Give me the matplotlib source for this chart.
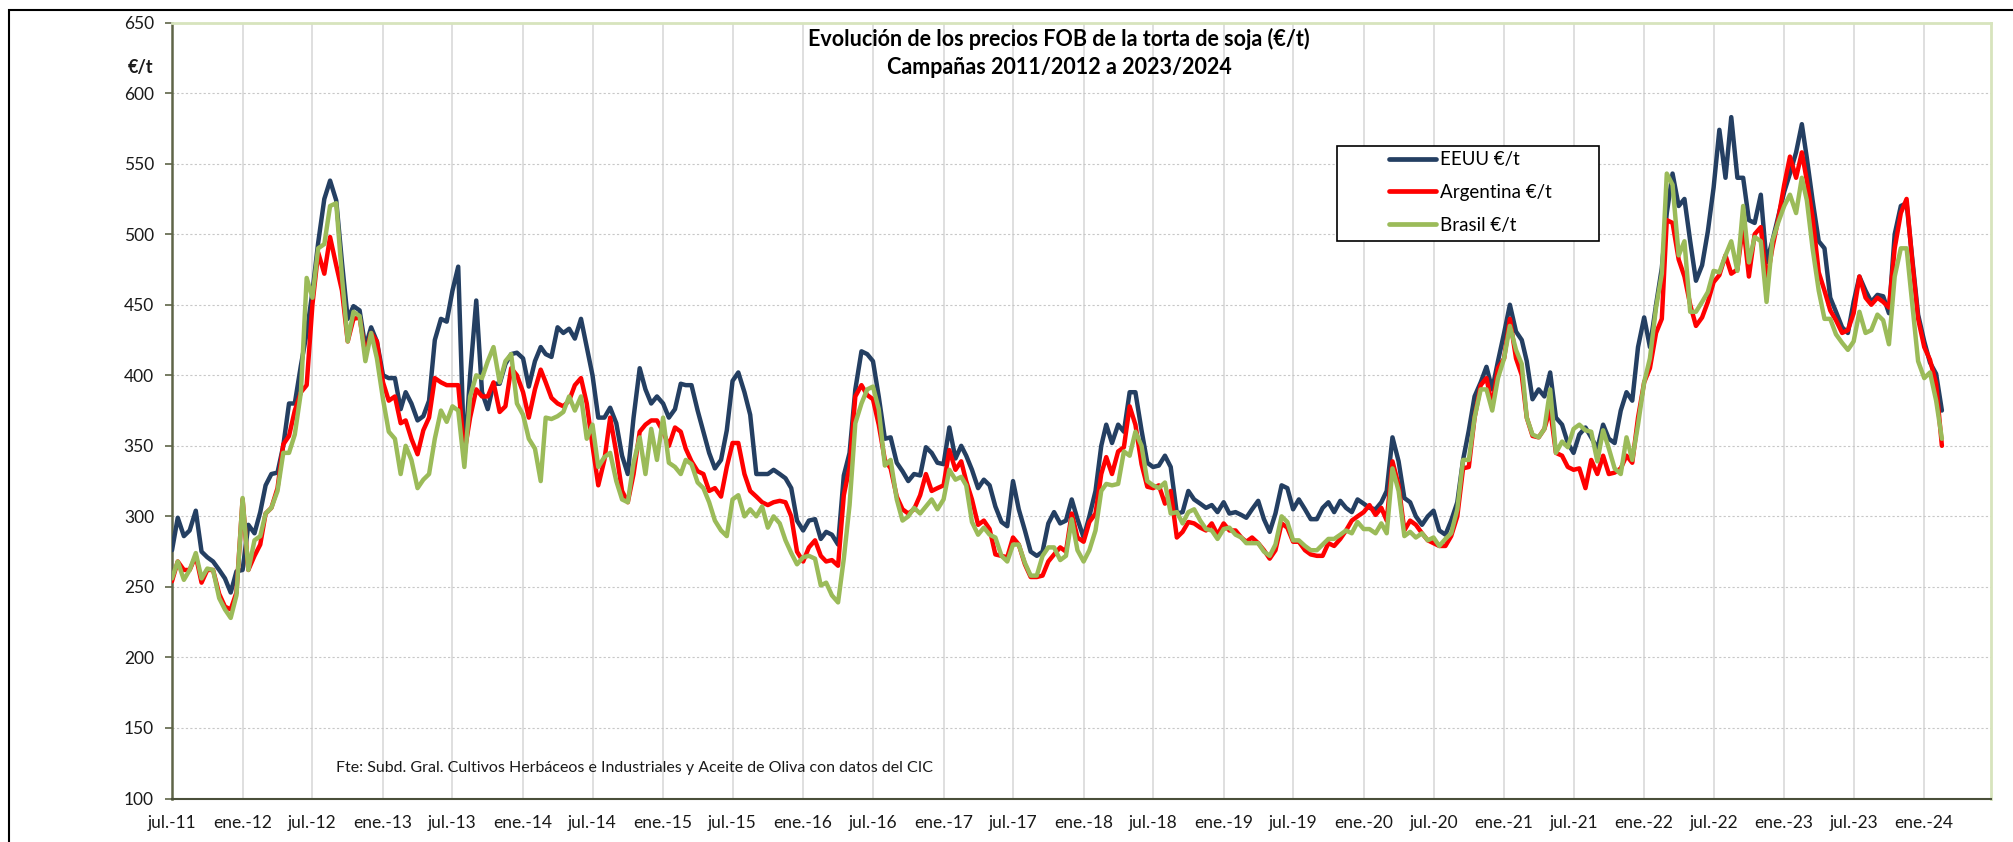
import numpy as np
import matplotlib.pyplot as plt
from matplotlib.lines import Line2D
from matplotlib.patches import Rectangle

plt.rcParams['font.family'] = ['Lato', 'DejaVu Sans']

# --- Datos (precio FOB torta de soja, €/t), puntos quincenales desde el 1 jul 2011 ---
eeuu = [
    276, 299, 286, 290, 304, 275, 271, 268, 262, 256, 246, 261, 262,
    294, 288, 303, 322, 330, 331, 350, 380, 380, 407, 430, 459,
    494, 525, 538, 524, 480, 440, 449, 446, 420, 434, 424, 400,
    398, 398, 376, 388, 380, 368, 371, 382, 425, 440, 438, 460,
    477, 340, 400, 453,
    388, 376, 394, 394, 408, 415, 416, 412,
    392, 410, 420, 415, 413, 434, 430, 433, 426, 440, 420, 400,
    370, 370, 377, 366, 343, 330, 370, 405, 390, 380, 385, 380,
    370, 376, 394, 393, 393, 375, 360, 345, 334, 340, 361, 396,
    402, 388, 372, 330, 330, 330, 333, 330,
    327, 320, 297, 290, 297, 298, 284, 289, 287, 280, 329, 345,
    390, 417, 415, 410, 385, 355, 356, 338, 332, 325, 330, 329,
    349, 345, 338, 337, 363, 341, 350, 343, 333, 320, 326, 322,
    307, 296, 293, 325, 305, 290, 275, 272, 275, 295, 303, 295, 297, 312, 298, 285,
    300, 318, 350, 365, 352, 365, 360, 388, 388, 361, 338, 335,
    336, 343, 335, 302, 303, 318, 312, 309, 306, 308, 303, 310,
    302, 303, 301, 299, 305, 311, 298, 289, 302, 322, 320, 305,
    312, 305, 298, 298, 306, 310, 303, 311, 306, 303, 312, 309,
    306, 305, 310, 318, 356,
    339, 313, 310, 300, 294, 300, 304, 290, 287, 297, 310, 340,
    361, 385, 395, 406, 390, 410, 430, 450, 431, 425, 410, 383,
    390, 385, 402, 370, 365, 352, 345, 358, 363, 356, 348, 365,
    355, 352, 375, 388, 382, 420, 441, 420, 450, 476, 515, 543,
    520, 525, 495, 467,
    478, 502, 533, 574, 540, 583, 540, 540, 510, 508, 528, 480,
    495, 512, 530, 543, 558, 578, 554, 524, 495, 490, 455, 445,
    434, 430, 452, 470, 460, 452, 457, 456, 444, 500, 520, 522,
    482, 443, 424, 409, 401, 375,
]
argentina = [
    254, 268, 262, 262, 272, 253, 262, 262, 245, 236, 234, 246, 312,
    262, 272, 280, 302, 306, 320, 351, 357, 375, 388, 393, 450,
    487, 472, 498, 478, 460, 424, 440, 441, 415, 430, 424, 395,
    382, 385, 366, 368, 355, 344, 361, 370, 398, 395, 393, 393,
    393, 345, 370, 390,
    385, 385, 395, 374, 378, 405, 400, 388,
    370, 390, 404, 395, 384, 380, 378, 382, 393, 398, 380, 350,
    322, 340, 370, 345, 318, 310, 330, 360, 365, 368, 368, 360,
    350, 363, 360, 348, 339, 332, 330, 318, 320, 314, 335, 352,
    352, 330, 318, 314, 310, 308, 310, 311,
    310, 300, 275, 268, 278, 283, 272, 268, 269, 265, 315, 335,
    385, 393, 386, 383, 365, 340, 334, 314, 305, 302, 305, 315,
    330, 318, 320, 322, 347, 333, 339, 325, 312, 294, 297, 291,
    273, 272, 271, 285, 280, 266, 257, 257, 258, 268, 273, 278, 275, 302, 285, 282,
    296, 302, 330, 342, 330, 346, 349, 378, 365, 337, 321, 320,
    322, 309, 318, 285, 289, 296, 295, 292, 290, 295, 287, 295,
    290, 290, 285, 282, 285, 281, 276, 270, 276, 295, 292, 282,
    282, 276, 273, 272, 272, 281, 279, 284, 290, 297, 300, 303,
    308, 301, 306, 297, 339,
    322, 290, 297, 294, 288, 283, 281, 279, 279, 286, 300, 334,
    335, 370, 393, 398, 378, 405, 412, 440, 412, 400, 370, 357,
    356, 362, 376, 345, 343, 335, 333, 334, 320, 340, 330, 343,
    330, 331, 334, 343, 338, 370, 395, 405, 430, 440, 510, 508,
    482, 470, 450, 435,
    441, 452, 466, 471, 485, 472, 475, 507, 470, 500, 505, 466,
    490, 510, 535, 555, 540, 558, 538, 512, 473, 460, 446, 439,
    430, 432, 444, 470, 455, 450, 455, 452, 448, 490, 515, 525,
    480, 440, 420, 411, 394, 350,
]
brasil = [
    256, 268, 255, 262, 274, 256, 263, 262, 242, 234, 228, 244, 313,
    262, 283, 286, 302, 306, 318, 345, 345, 358, 388, 469, 455,
    490, 493, 520, 522, 470, 424, 445, 442, 410, 430, 412, 383,
    360, 355, 330, 350, 340, 320, 326, 330, 355, 375, 367, 378,
    375, 335, 385, 400,
    398, 410, 420, 395, 410, 415, 380, 372,
    355, 348, 325, 370, 369, 371, 374, 385, 375, 385, 355, 365,
    335, 342, 345, 325, 312, 310, 338, 356, 330, 362, 340, 370,
    338, 335, 330, 340, 337, 324, 320, 310, 297, 290, 286, 312,
    315, 300, 305, 300, 307, 292, 300, 295,
    283, 274, 266, 271, 272, 270, 251, 253, 244, 239, 270, 308,
    366, 380, 390, 392, 376, 336, 340, 312, 297, 300, 306, 302,
    307, 312, 305, 312, 333, 326, 328, 322, 296, 287, 292, 287,
    285, 272, 268, 280, 280, 267, 258, 258, 272, 278, 278, 269, 272, 298, 276, 268,
    276, 290, 318, 323, 322, 323, 346, 343, 360, 350, 325, 322,
    320, 324, 302, 303, 295, 303, 305, 297, 291, 290, 284, 291,
    292, 287, 285, 281, 281, 281, 275, 272, 280, 300, 296, 283,
    283, 279, 276, 276, 280, 284, 284, 287, 290, 288, 296, 291,
    291, 288, 295, 288, 334,
    318, 286, 289, 285, 288, 283, 285, 279, 284, 288, 305, 340,
    340, 370, 390, 390, 375, 398, 412, 435, 418, 408, 370, 358,
    356, 362, 390, 345, 353, 349, 362, 365, 361, 360, 339, 361,
    348, 334, 330, 356, 340, 365, 395, 412, 448, 472, 543, 535,
    485, 495, 445, 445,
    452, 459, 474, 473, 485, 495, 474, 520, 480, 498, 495, 452,
    495, 508, 520, 528, 515, 540, 524, 490, 460, 440, 440, 429,
    423, 418, 424, 445, 430, 432, 443, 439, 422, 470, 490, 490,
    450, 410, 398, 402, 382, 355,
]
series_names = ['EEUU €/t', 'Argentina €/t', 'Brasil €/t']
series_colors = ['#243F62', '#FF0000', '#9BBB59']

tick_labels = [
    'jul.-11', 'ene.-12', 'jul.-12', 'ene.-13', 'jul.-13', 'ene.-14', 'jul.-14',
    'ene.-15', 'jul.-15', 'ene.-16', 'jul.-16', 'ene.-17', 'jul.-17', 'ene.-18',
    'jul.-18', 'ene.-19', 'jul.-19', 'ene.-20', 'jul.-20', 'ene.-21', 'jul.-21',
    'ene.-22', 'jul.-22', 'ene.-23', 'jul.-23', 'ene.-24',
]

title = 'Evolución de los precios FOB de la torta de soja (€/t)\nCampañas 2011/2012 a 2023/2024'
source = 'Fte: Subd. Gral. Cultivos Herbáceos e Industriales y Aceite de Oliva con datos del CIC'


def semi_monthly(n):
    # 1 y 16 de cada mes a partir de julio 2011
    k = np.arange(n)
    months = np.datetime64('2011-07', 'M') + k // 2
    return months.astype('datetime64[D]') + np.where(k % 2, 15, 0)


W, H = 2013, 842
fig = plt.figure(figsize=(W / 100, H / 100), dpi=100)
ax = fig.add_axes([172 / W, 1 - 798.5 / H, (1991 - 172) / W, (798.5 - 22.6) / H])

for vals, name, col in zip([eeuu, argentina, brasil], series_names, series_colors):
    ax.plot(semi_monthly(len(vals)), vals, color=col, lw=3.2, label=name,
            solid_joinstyle='round', solid_capstyle='round', zorder=3)

# ejes
ax.set_xlim(np.datetime64('2011-07-01'), np.datetime64('2024-06-23'))
ax.set_ylim(100, 650)
tick_pos = np.datetime64('2011-07', 'M') + np.arange(0, 6 * len(tick_labels), 6)
ax.set_xticks(tick_pos.astype('datetime64[D]'))
ax.set_xticklabels(tick_labels)
ax.set_yticks(np.arange(100, 651, 50))
ax.tick_params(axis='x', length=0, pad=12, labelsize=12.5, colors='#1a1a1a')
ax.tick_params(axis='y', length=5, width=1.2, pad=8, labelsize=12.5, colors='#1a1a1a')
ax.tick_params(axis='y', color='#5f6548')

ax.grid(axis='x', color='#d9d9d9', lw=1.2, zorder=0)
ax.grid(axis='y', color='#c8c8c8', lw=0.8, ls=(0, (2, 2)), zorder=0)
ax.set_axisbelow(True)

ax.spines['left'].set_color('#5f6548')
ax.spines['left'].set_linewidth(1.8)
ax.spines['bottom'].set_color('#4a4f3a')
ax.spines['bottom'].set_linewidth(1.5)
for s in ['top', 'right']:
    ax.spines[s].set_color('#d7e4bd')
    ax.spines[s].set_linewidth(2)

# leyenda con marco propio
ax.add_patch(Rectangle(((1337 - 172) / 1819, (798.5 - 241) / 776), 262 / 1819, 95 / 776,
                       transform=ax.transAxes, facecolor='white', edgecolor='black',
                       lw=1.2, zorder=4))
handles = [Line2D([], [], color=c, lw=3.4, solid_capstyle='round') for c in series_colors]
leg = ax.legend(handles, series_names, loc='upper left',
                bbox_to_anchor=((1389 - 172) / 1819, (798.5 - 151) / 776),
                frameon=False, fontsize=13.5, handlelength=2.5, handletextpad=0.2,
                labelspacing=0.85, borderpad=0, borderaxespad=0)
leg.set_zorder(5)

# textos
line1, line2 = title.split('\n')
fig.text(1059 / W, 1 - 38.6 / H, line1, ha='center', va='center',
         fontsize=15.5, fontweight='bold')
fig.text(1059 / W, 1 - 67 / H, line2, ha='center', va='center',
         fontsize=15.5, fontweight='bold')
fig.text(140.5 / W, 1 - 68 / H, '€/t', ha='center', va='center', fontsize=13,
         fontweight='bold', color='#1a1a1a')
fig.text(336.5 / W, 1 - 768 / H, source, ha='left', va='center', fontsize=11.5,
         color='#1a1a1a')

# marco exterior
fig.add_artist(Rectangle((9 / W, -0.1), 1.2, 1 - 9.7 / H + 0.1, transform=fig.transFigure,
                         fill=False, edgecolor='black', lw=1.5))

fig.savefig('out.png', dpi=100)
